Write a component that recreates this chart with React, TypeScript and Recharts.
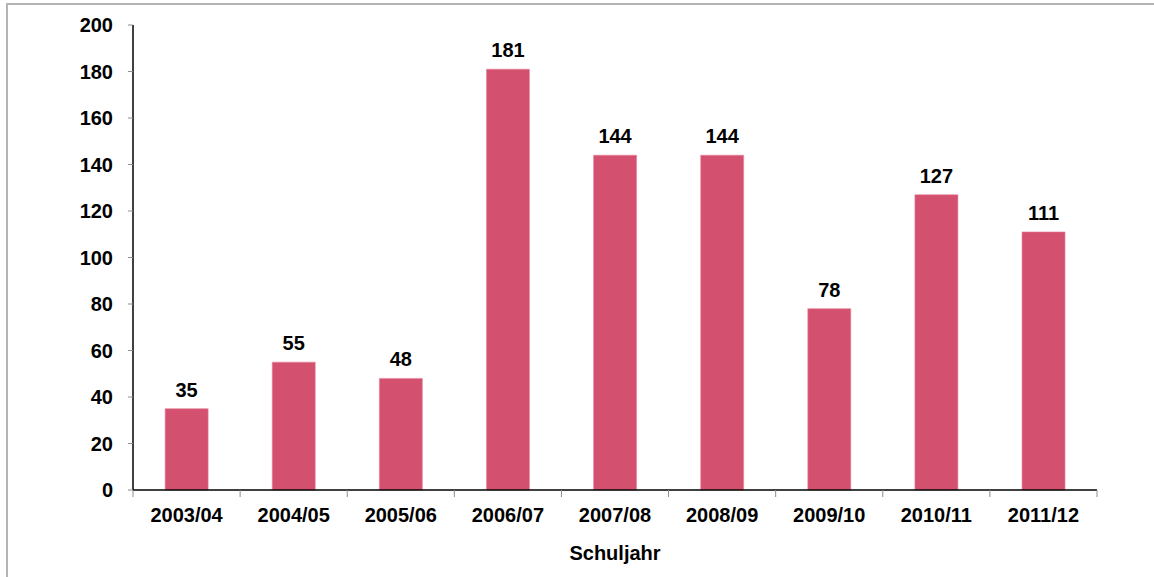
import { BarChart, Bar, XAxis, YAxis, LabelList, Label } from "recharts";

const years = ["2003/04", "2004/05", "2005/06", "2006/07", "2007/08", "2008/09", "2009/10", "2010/11", "2011/12"];
const counts = [35, 55, 48, 181, 144, 144, 78, 127, 111];
const yTicks = [0, 20, 40, 60, 80, 100, 120, 140, 160, 180, 200];

const data = years.map((year, i) => ({ year, count: counts[i] }));

const font = "'Liberation Sans', Arial, sans-serif";
const tickStyle = { fill: "#000", fontSize: 20, fontWeight: 700, fontFamily: font };
const labelGap = 18;

// category label plus the small gray tick at the left (and for the last one, right) band edge
function YearTick(props: any) {
  const { x, y, payload, index, width } = props;
  const half = width / years.length / 2;
  const axisY = y - labelGap;
  return (
    <g>
      <line x1={x - half} x2={x - half} y1={axisY} y2={axisY + 7} stroke="#8c8c8c" />
      {index === years.length - 1 && (
        <line x1={x + half} x2={x + half} y1={axisY} y2={axisY + 7} stroke="#8c8c8c" />
      )}
      <text x={x} y={y} dy="0.71em" textAnchor="middle" style={tickStyle}>
        {payload.value}
      </text>
    </g>
  );
}

export default function App() {
  return (
    <div style={{ position: "absolute", left: 0, top: 0, width: 1154, height: 577, overflow: "hidden", background: "#fff" }}>
      <div
        style={{
          position: "absolute",
          left: 6,
          top: 3,
          width: 1300,
          height: 700,
          borderTop: "2px solid #b4b4b4",
          borderLeft: "2px solid #b4b4b4",
        }}
      />
      <div style={{ position: "absolute", left: 0, top: 0 }}>
        <BarChart
          width={1154}
          height={577}
          data={data}
          margin={{ top: 25, right: 57, bottom: 12, left: 73 }}
          barCategoryGap="30%"
        >
          <XAxis
            dataKey="year"
            axisLine={{ stroke: "#000", strokeWidth: 1.5 }}
            tickLine={false}
            tickSize={0}
            tick={<YearTick />}
            tickMargin={labelGap}
            interval={0}
            height={75}
          >
            <Label value="Schuljahr" position="insideBottom" offset={5} style={tickStyle} />
          </XAxis>
          <YAxis
            domain={[0, 200]}
            ticks={yTicks}
            interval={0}
            axisLine={{ stroke: "#000", strokeWidth: 1.5 }}
            tickLine={{ stroke: "#8c8c8c" }}
            tickSize={5}
            tickMargin={15}
            tick={tickStyle}
            width={60}
          />
          <Bar
            dataKey="count"
            fill="#d4506f"
            stroke="#e8849c"
            strokeWidth={0.6}
            isAnimationActive={false}
          >
            <LabelList dataKey="count" position="top" offset={12} style={tickStyle} />
          </Bar>
        </BarChart>
      </div>
    </div>
  );
}
